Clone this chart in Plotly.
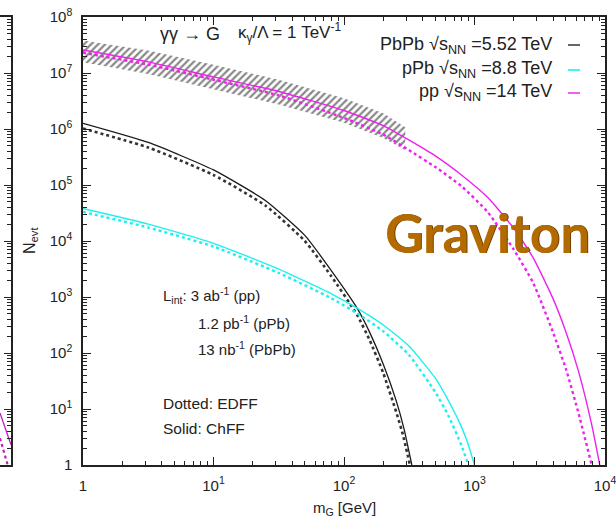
import plotly.graph_objects as go

# ---------------- data ----------------
pbpb_m_solid = [1, 3.16, 10, 25.1, 50.1, 79.4, 126, 158, 200, 251, 288, 331]
pbpb_n_solid = [1.26e6, 5.75e5, 1.86e5, 5.25e4, 1.26e4, 3.02e3, 631, 229, 63.1, 14.1, 4.47, 1.0]
pbpb_m_dot = [1, 3.16, 10, 25.1, 50.1, 79.4, 126, 158, 200, 251, 282, 320]
pbpb_n_dot = [1.02e6, 4.68e5, 1.51e5, 4.27e4, 1.0e4, 2.4e3, 479, 166, 43.7, 8.91, 3.55, 1.0]

ppb_m_solid = [1, 3.16, 10, 31.6, 79.4, 126, 200, 316, 501, 631, 794, 891, 1000]
ppb_n_solid = [3.8e4, 2.0e4, 9.1e3, 3.16e3, 1.15e3, 631, 316, 132, 35.5, 14.1, 4.79, 2.40, 1.0]
ppb_m_dot = [1, 3.16, 10, 31.6, 79.4, 126, 200, 316, 501, 631, 794, 898]
ppb_n_dot = [3.31e4, 1.74e4, 7.94e3, 2.69e3, 955, 513, 245, 91.2, 20.0, 7.59, 2.24, 1.0]

pp_m_solid = [1, 3.16, 10, 31.6, 100, 200, 316, 501, 794, 1259, 1995, 2818, 3981, 5012, 6310, 7943, 9120]
pp_n_solid = [2.57e7, 1.58e7, 8.51e6, 4.68e6, 2.14e6, 1.15e6, 6.31e5, 3.31e5, 1.51e5, 6.03e4, 1.70e4,
              5.01e3, 955, 240, 44.7, 5.01, 1.0]
pp_m_dot = [1, 3.16, 10, 31.6, 100, 200, 316, 501, 794, 1259, 1995, 2818, 3981, 5012, 6310, 7907]
pp_n_dot = [2.29e7, 1.41e7, 7.59e6, 3.98e6, 1.58e6, 7.94e5, 4.17e5, 2.09e5, 9.55e4, 3.31e4, 7.08e3,
            1.78e3, 240, 52.5, 7.94, 1.0]

band_m = [1, 3.16, 10, 31.6, 100, 200, 295]
band_upper = [3.80e7, 2.51e7, 1.41e7, 7.59e6, 3.55e6, 1.91e6, 1.07e6]
band_lower = [1.55e7, 9.55e6, 5.13e6, 2.75e6, 1.29e6, 6.92e5, 4.17e5]

# partial neighbouring panel (cut at the left edge)
left_x_solid = [0, 1]
left_n_solid = [8.5, 2.3]
left_x_dot = [0, 0.7]
left_n_dot = [3.0, 1.0]

x_tickvals = [1, 10, 100, 1000, 10000]
x_ticktext = ["1", "10<sup>1</sup>", "10<sup>2</sup>", "10<sup>3</sup>", "10<sup>4</sup>"]
y_tickvals = [1, 10, 100, 1e3, 1e4, 1e5, 1e6, 1e7, 1e8]
y_ticktext = ["1", "10<sup>1</sup>", "10<sup>2</sup>", "10<sup>3</sup>", "10<sup>4</sup>",
              "10<sup>5</sup>", "10<sup>6</sup>", "10<sup>7</sup>", "10<sup>8</sup>"]

legend_labels = ["PbPb √s<sub>NN</sub> =5.52 TeV", "pPb √s<sub>NN</sub> =8.8 TeV", "pp √s<sub>NN</sub> =14 TeV"]

BLACK = "#1a1a1a"
CYAN = "#1ef0f0"
MAG = "#f020f0"
FONT = "Liberation Sans"

W, H = 616, 527
ML, MR, MT, MB = 0, 11, 17, 62
PW, PH = W - ML - MR, H - MT - MB


def px(x):
    return (x - ML) / PW


def py(y):
    return (H - MB - y) / PH


fig = go.Figure()

# hatched band
fig.add_trace(go.Scatter(
    x=band_m + band_m[::-1], y=band_upper + band_lower[::-1],
    mode="lines", line=dict(width=0), fill="toself",
    fillcolor="rgba(0,0,0,0)",
    fillpattern=dict(shape="/", fgcolor="#111111", bgcolor="rgba(255,255,255,0)", size=5, solidity=0.45),
    hoverinfo="skip", showlegend=False))

for m, n, col, dash, w in [
    (pbpb_m_dot, pbpb_n_dot, "#333333", "dot", 2.6),
    (pbpb_m_solid, pbpb_n_solid, BLACK, "solid", 1.3),
    (ppb_m_dot, ppb_n_dot, CYAN, "dot", 2.4),
    (ppb_m_solid, ppb_n_solid, CYAN, "solid", 1.4),
    (pp_m_dot, pp_n_dot, MAG, "dot", 2.4),
    (pp_m_solid, pp_n_solid, MAG, "solid", 1.4),
]:
    fig.add_trace(go.Scatter(x=m, y=n, mode="lines", line=dict(color=col, dash=dash, width=w, shape="spline", smoothing=0.5),
                             showlegend=False, xaxis="x", yaxis="y"))

# left partial panel
fig.add_trace(go.Scatter(x=left_x_solid, y=left_n_solid, mode="lines", line=dict(color="#c020c0", width=1.3),
                         showlegend=False, xaxis="x2", yaxis="y2"))
fig.add_trace(go.Scatter(x=left_x_dot, y=left_n_dot, mode="lines", line=dict(color="#c020c0", width=2.2, dash="dot"),
                         showlegend=False, xaxis="x2", yaxis="y2"))

axis_common = dict(showgrid=False, zeroline=False, showline=True, linecolor="#222", linewidth=1.5,
                   ticks="inside", ticklen=8, tickcolor="#222", mirror="ticks", automargin=False,
                   ticklabeloverflow="allow",
                   tickfont=dict(family=FONT, size=15, color="#222"))

fig.update_layout(
    width=W, height=H,
    margin=dict(l=ML, r=MR, t=MT, b=MB, autoexpand=False),
    paper_bgcolor="white", plot_bgcolor="white",
    xaxis=dict(type="log", range=[0, 4], domain=[83 / PW, 1], anchor="y",
               tickvals=x_tickvals, ticktext=x_ticktext, ticklabelstandoff=6,
               minor=dict(ticks="inside", ticklen=4, dtick="D1", tickcolor="#222"),
               **axis_common),
    yaxis=dict(type="log", range=[0, 8], domain=[0, 1], anchor="x",
               tickvals=y_tickvals, ticktext=y_ticktext, ticklabelstandoff=6,
               minor=dict(ticks="inside", ticklen=4, dtick="D1", tickcolor="#222"),
               **axis_common),
    xaxis2=dict(range=[0, 1], domain=[0, 11 / PW], anchor="y2", showgrid=False, zeroline=False, automargin=False,
                showline=True, mirror=True, linecolor="#222", linewidth=1.5, showticklabels=False, ticks=""),
    yaxis2=dict(type="log", range=[0, 8], domain=[0, 1], anchor="x2", side="right", showgrid=False,
                zeroline=False, showline=True, linecolor="#222", linewidth=1.5, showticklabels=False,
                automargin=False, ticks="inside", ticklen=7, tickcolor="#222", tickvals=y_tickvals,
                minor=dict(ticks="inside", ticklen=4, dtick="D1", tickcolor="#222")),
)

ann = []


def add_text(text, x, y, size, xanchor="left", color="#222", family=FONT, **kw):
    ann.append(dict(text=text, x=px(x), y=py(y), xref="paper", yref="paper", xanchor=xanchor,
                    yanchor="middle", showarrow=False, font=dict(family=family, size=size, color=color), **kw))


add_text("γγ → G", 158, 34, 18)
add_text("κ<sub>γ</sub>/Λ = 1 TeV<sup>-1</sup>", 236, 33, 17)

leg_y = [45, 70, 93]
leg_cols = ["#666666", "#44f4f4", "#f060f0"]
for lab, yy in zip(legend_labels, leg_y):
    add_text(lab, 554, yy, 18, xanchor="right")

add_text("L<sub>int</sub>: 3 ab<sup>-1</sup> (pp)", 161, 295, 15)
add_text("1.2 pb<sup>-1</sup> (pPb)", 196, 322, 15)
add_text("13 nb<sup>-1</sup> (PbPb)", 196, 348, 15)
add_text("Dotted: EDFF", 161, 403, 15.5)
add_text("Solid: ChFF", 161, 428, 15.5)

add_text("<b>Graviton</b>", 488, 233, 53, xanchor="center", color="#6e4200", family="Lato")
add_text("<b>Graviton</b>", 487, 232, 53, xanchor="center", color="#b36b00", family="Lato")

add_text("m<sub>G</sub> [GeV]", 344, 508, 15, xanchor="center")
add_text("N<sub>evt</sub>", 30, 241, 16, xanchor="center", textangle=-90)

fig.update_layout(annotations=ann)

shapes = []
for yy, col in zip(leg_y, leg_cols):
    shapes.append(dict(type="line", xref="paper", yref="paper", x0=px(568), x1=px(580), y0=py(yy), y1=py(yy),
                       line=dict(color=col, width=2)))
fig.update_layout(shapes=shapes)

fig.write_html("out.html", config={"displayModeBar": False},
               post_script="document.body.style.margin='0px';")
